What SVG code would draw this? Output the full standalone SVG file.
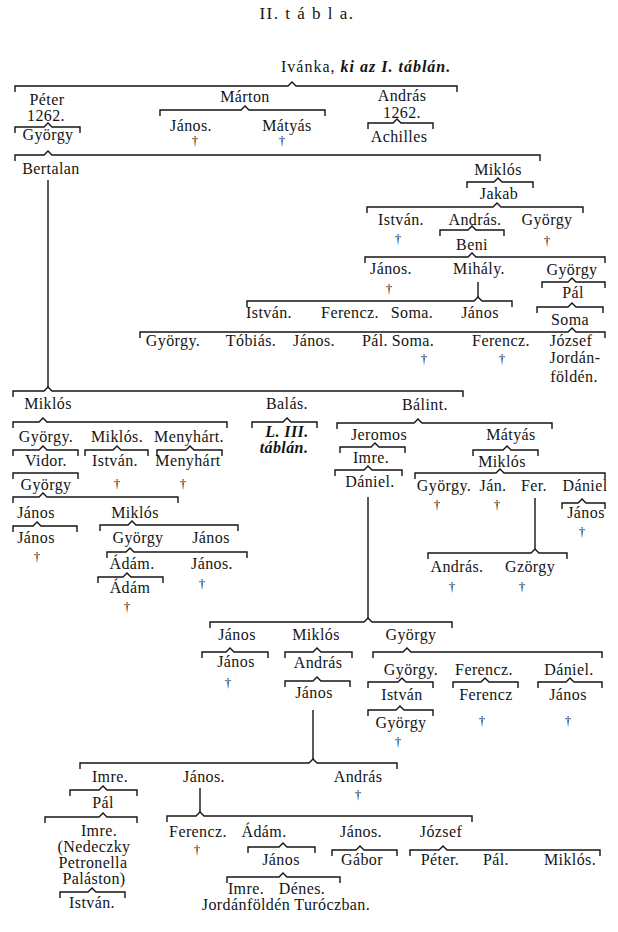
<svg xmlns="http://www.w3.org/2000/svg" width="618" height="932" viewBox="0 0 618 932">
<style>
text{font-family:"Liberation Serif","Times New Roman",serif;font-size:16px;letter-spacing:0.4px;fill:#141414;text-anchor:middle}
.ti{font-size:17px;letter-spacing:1.5px}
.bi{font-weight:bold;font-style:italic}
.d{font-size:13px;letter-spacing:0}
.c path{fill:none;stroke:#141414;stroke-width:1.4}
</style>
<rect width="618" height="932" fill="#fff"/>
<text class="ti" x="307" y="19">II. t á b l a.</text>
<g class="c" id="connectors">
<path d="M15 92V86H288L292 82L296 86H457V92"/>
<path d="M15 133V127H44L48 123L52 127H80V133"/>
<path d="M160 116V110H241L245 106L249 110H325V116"/>
<path d="M368 129V123H393L397 119L401 123H433V129"/>
<path d="M15 161V155H44L48 151L52 155H540V161"/>
<path d="M467 188V182H494L498 178L502 182H533V188"/>
<path d="M367 213V207H493L497 203L501 207H583V213"/>
<path d="M440 236V230H468L472 226L476 230H504V236"/>
<path d="M365 263V257H468L472 253L476 257H605V263"/>
<path d="M478 282V297"/>
<path d="M247 307V301H474L478 297L482 301H512V307"/>
<path d="M542 288V282H568L572 278L576 282H605V288"/>
<path d="M537 313V307H568L572 303L576 307H603V313"/>
<path d="M140 338V332H568L572 328L576 332H605V338"/>
<path d="M48 180V387"/>
<path d="M13 397V391H44L48 387L52 391H463V397"/>
<path d="M13 428V422H39L43 418L47 422H227V428"/>
<path d="M252 428V422H283L287 418L291 422H317V428"/>
<path d="M337 429V423H414L418 419L422 423H552V429"/>
<path d="M13 456V450H39L43 446L47 450H78V456"/>
<path d="M85 456V450H113L117 446L121 450H148V456"/>
<path d="M157 456V450H186L190 446L194 450H222V456"/>
<path d="M13 479V473H78V479"/>
<path d="M13 503V497H39L43 493L47 497H178V503"/>
<path d="M13 532V526H33L37 522L41 526H77V532"/>
<path d="M100 531V525H128L132 521L136 525H238V531"/>
<path d="M107 558V552H126L130 548L134 552H247V558"/>
<path d="M98 583V577H123L127 573L131 577H163V583"/>
<path d="M340 453V447H371L375 443L379 447H405V453"/>
<path d="M335 476V470H364L368 466L372 470H402V476"/>
<path d="M473 456V450H503L507 446L511 450H538V456"/>
<path d="M415 479V473H496L500 469L504 473H605V479"/>
<path d="M562 509V503H578L582 499L586 503H605V509"/>
<path d="M535 498V549"/>
<path d="M428 559V553H531L535 549L539 553H567V559"/>
<path d="M368 497V618"/>
<path d="M210 628V622H364L368 618L372 622H452V628"/>
<path d="M202 658V652H226L230 648L234 652H268V658"/>
<path d="M285 658V652H313L317 648L321 652H352V658"/>
<path d="M373 658V652H403L407 648L411 652H602V658"/>
<path d="M285 687V681H313L317 677L321 681H350V687"/>
<path d="M368 688V682H398L402 678L406 682H433V688"/>
<path d="M453 688V682H481L485 678L489 682H518V688"/>
<path d="M538 688V682H566L570 678L574 682H602V688"/>
<path d="M368 716V710H396L400 706L404 710H433V716"/>
<path d="M313 710V759"/>
<path d="M80 769V763H309L313 759L317 763H397V769"/>
<path d="M70 796V790H99L103 786L107 790H137V796"/>
<path d="M45 823V817H99L103 813L107 817H137V823"/>
<path d="M60 898V892H88L92 888L96 892H125V898"/>
<path d="M200 788V812"/>
<path d="M167 822V816H196L200 812L204 816H472V822"/>
<path d="M248 853V847H279L283 843L287 847H315V853"/>
<path d="M332 856V850H356L360 846L364 850H397V856"/>
<path d="M410 856V850H439L443 846L447 850H600V856"/>
<path d="M227 883V877H279L283 873L287 877H340V883"/>
</g>
<g id="ivanka"><text x="281" y="72" style="text-anchor:start;letter-spacing:1px">Ivánka, <tspan class="bi">ki az I. táblán.</tspan></text></g>
<g id="peter"><text x="47" y="105">Péter</text><text x="46" y="121">1262.</text></g>
<g id="marton"><text x="245" y="102">Márton</text></g>
<g id="janos1"><text x="191" y="131">János.</text><text class="d" x="195" y="145">†</text></g>
<g id="matyas1"><text x="287" y="131">Mátyás</text><text class="d" x="282" y="145">†</text></g>
<g id="andras1"><text x="402" y="101">András</text><text x="402" y="118">1262.</text></g>
<g id="gyorgy1"><text x="48" y="140">György</text></g>
<g id="achilles"><text x="399" y="142">Achilles</text></g>
<g id="bertalan"><text x="51" y="174">Bertalan</text></g>
<g id="miklos1"><text x="498" y="175">Miklós</text></g>
<g id="jakab"><text x="499" y="199">Jakab</text></g>
<g id="istvan1"><text x="401" y="225">István.</text><text class="d" x="398" y="243">†</text></g>
<g id="andras2"><text x="475" y="225">András.</text></g>
<g id="gyorgy2"><text x="547" y="225">György</text><text class="d" x="547" y="245">†</text></g>
<g id="beni"><text x="472" y="250">Beni</text></g>
<g id="janos2"><text x="391" y="274">János.</text><text class="d" x="389" y="293">†</text></g>
<g id="mihaly"><text x="479" y="274">Mihály.</text></g>
<g id="gyorgy3"><text x="572" y="275">György</text></g>
<g id="pal1"><text x="573" y="298">Pál</text></g>
<g id="soma1"><text x="570" y="325">Soma</text></g>
<g id="istvan2"><text x="269" y="318">István.</text></g>
<g id="ferencz1"><text x="350" y="318">Ferencz.</text></g>
<g id="soma2"><text x="412" y="318">Soma.</text></g>
<g id="janos3"><text x="480" y="318">János</text></g>
<g id="gyorgy4"><text x="173" y="346">György.</text></g>
<g id="tobias"><text x="251" y="346">Tóbiás.</text></g>
<g id="janos4"><text x="314" y="346">János.</text></g>
<g id="pal2"><text x="375" y="346">Pál.</text></g>
<g id="soma3"><text x="413" y="346">Soma.</text><text class="d" x="424" y="363">†</text></g>
<g id="ferencz2"><text x="501" y="346">Ferencz.</text><text class="d" x="502" y="363">†</text></g>
<g id="jozsef1"><text x="571" y="346">József</text><text x="575" y="363">Jordán-</text><text x="574" y="382">földén.</text></g>
<g id="miklos2"><text x="48" y="409">Miklós</text></g>
<g id="balas"><text x="287" y="409">Balás.</text></g>
<g id="l3"><text class="bi" x="287" y="437">L. III.</text><text class="bi" x="284" y="453">táblán.</text></g>
<g id="balint"><text x="425" y="410">Bálint.</text></g>
<g id="gyorgy5"><text x="46" y="442">György.</text></g>
<g id="miklos3"><text x="117" y="442">Miklós.</text></g>
<g id="menyhart1"><text x="189" y="442">Menyhárt.</text></g>
<g id="vidor"><text x="46" y="466">Vidor.</text></g>
<g id="istvan3"><text x="115" y="466">István.</text><text class="d" x="117" y="488">†</text></g>
<g id="menyhart2"><text x="188" y="466">Menyhárt</text><text class="d" x="183" y="488">†</text></g>
<g id="gyorgy6"><text x="46" y="490">György</text></g>
<g id="janos5"><text x="36" y="518">János</text></g>
<g id="miklos4"><text x="135" y="518">Miklós</text></g>
<g id="janos6"><text x="36" y="543">János</text><text class="d" x="37" y="561">†</text></g>
<g id="gyorgy7"><text x="138" y="543">György</text></g>
<g id="janos7"><text x="211" y="543">János</text></g>
<g id="adam1"><text x="132" y="569">Ádám.</text></g>
<g id="janos8"><text x="212" y="569">János.</text><text class="d" x="202" y="588">†</text></g>
<g id="adam2"><text x="130" y="593">Ádám</text><text class="d" x="127" y="611">†</text></g>
<g id="jeromos"><text x="379" y="440">Jeromos</text></g>
<g id="matyas2"><text x="511" y="440">Mátyás</text></g>
<g id="imre1"><text x="371" y="463">Imre.</text></g>
<g id="miklos5"><text x="502" y="467">Miklós</text></g>
<g id="daniel1"><text x="370" y="487">Dániel.</text></g>
<g id="gyorgy8"><text x="444" y="491">György.</text><text class="d" x="437" y="509">†</text></g>
<g id="jan"><text x="493" y="491">Ján.</text><text class="d" x="497" y="509">†</text></g>
<g id="fer"><text x="534" y="491">Fer.</text></g>
<g id="daniel2"><text x="585" y="491">Dániel</text></g>
<g id="janos9"><text x="586" y="518">János</text><text class="d" x="582" y="536">†</text></g>
<g id="andras3"><text x="457" y="572">András.</text><text class="d" x="452" y="591">†</text></g>
<g id="gzorgy"><text x="530" y="572">Gzörgy</text><text class="d" x="522" y="591">†</text></g>
<g id="janos10"><text x="237" y="640">János</text></g>
<g id="miklos6"><text x="316" y="640">Miklós</text></g>
<g id="gyorgy9"><text x="411" y="640">György</text></g>
<g id="janos11"><text x="236" y="667">János</text><text class="d" x="228" y="687">†</text></g>
<g id="andras4"><text x="318" y="668">András</text></g>
<g id="janos12"><text x="314" y="698">János</text></g>
<g id="gyorgy10"><text x="411" y="675">György.</text></g>
<g id="ferencz3"><text x="484" y="675">Ferencz.</text></g>
<g id="daniel3"><text x="569" y="675">Dániel.</text></g>
<g id="istvan4"><text x="402" y="700">István</text></g>
<g id="ferencz4"><text x="486" y="700">Ferencz</text><text class="d" x="482" y="725">†</text></g>
<g id="janos13"><text x="568" y="700">János</text><text class="d" x="568" y="725">†</text></g>
<g id="gyorgy11"><text x="401" y="728">György</text><text class="d" x="398" y="746">†</text></g>
<g id="imre2"><text x="110" y="782">Imre.</text></g>
<g id="janos14"><text x="204" y="782">János.</text></g>
<g id="andras5"><text x="358" y="782">András</text><text class="d" x="358" y="799">†</text></g>
<g id="pal3"><text x="103" y="808">Pál</text></g>
<g id="imre3"><text x="99" y="836">Imre.</text><text x="94" y="852">(Nedeczky</text><text x="93" y="868">Petronella</text><text x="94" y="884">Paláston)</text></g>
<g id="istvan5"><text x="92" y="908">István.</text></g>
<g id="ferencz5"><text x="198" y="837">Ferencz.</text><text class="d" x="197" y="854">†</text></g>
<g id="adam3"><text x="264" y="837">Ádám.</text></g>
<g id="janos15"><text x="361" y="837">János.</text></g>
<g id="jozsef2"><text x="441" y="837">József</text></g>
<g id="janos16"><text x="281" y="865">János</text></g>
<g id="gabor"><text x="362" y="865">Gábor</text></g>
<g id="peter2"><text x="440" y="865">Péter.</text></g>
<g id="pal4"><text x="496" y="865">Pál.</text></g>
<g id="miklos7"><text x="570" y="865">Miklós.</text></g>
<g id="imre_denes"><text x="246" y="894">Imre.</text><text x="302" y="894">Dénes.</text><text x="286" y="910">Jordánföldén Turóczban.</text></g>
</svg>
